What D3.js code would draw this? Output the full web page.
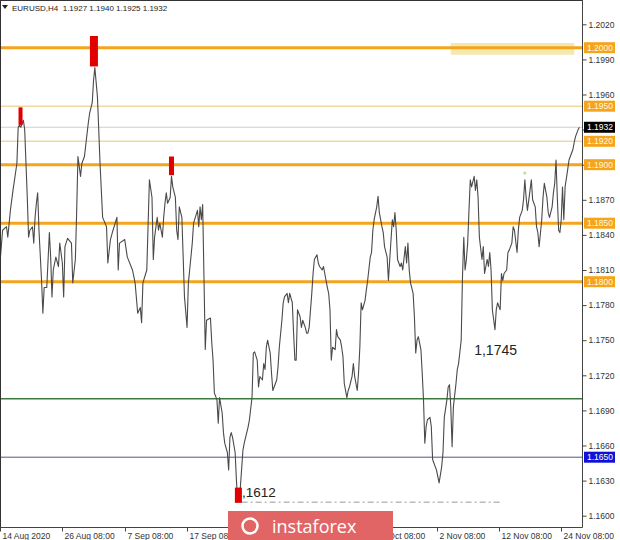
<!DOCTYPE html>
<html><head><meta charset="utf-8">
<script src="https://cdn.jsdelivr.net/npm/d3@7"></script>
<style>body{margin:0;background:#fff;} svg{display:block;font-family:"Liberation Sans",Arial,sans-serif;}</style>
</head><body><svg id="c" width="620" height="540"></svg>
<script>
// ---- data ----
const symbolTitle = "EURUSD,H4  1.1927 1.1940 1.1925 1.1932";
// [bar index, close]
const series = [[0,1.1816],[2,1.1844],[5,1.1847],[6,1.1838],[8,1.1861],[10,1.1878],[13,1.1901],[14,1.1932],[15,1.1934],[16,1.1932],[18,1.1938],[19,1.1930],[21,1.1872],[22,1.1838],[23,1.1844],[25,1.1847],[26,1.1833],[27,1.1855],[28,1.1867],[29,1.1876],[30,1.1844],[32,1.1801],[33,1.1773],[34,1.1795],[36,1.1795],[38,1.1842],[39,1.1821],[40,1.1787],[41,1.1810],[43,1.1821],[45,1.1813],[46,1.1833],[48,1.1816],[49,1.1787],[50,1.1830],[52,1.1837],[55,1.1833],[56,1.1799],[58,1.1819],[59,1.1859],[60,1.1907],[62,1.1890],[63,1.1901],[65,1.1907],[68,1.1936],[69,1.1944],[71,1.1953],[72,1.1972],[73,1.1983],[75,1.1958],[76,1.1930],[77,1.1901],[78,1.1878],[79,1.1855],[82,1.1847],[83,1.1816],[85,1.1836],[87,1.1844],[90,1.1855],[91,1.1810],[92,1.1833],[96,1.1836],[98,1.1821],[102,1.1810],[104,1.1799],[106,1.1773],[108,1.1778],[109,1.1765],[110,1.1799],[113,1.1810],[115,1.1887],[117,1.1872],[118,1.1819],[119,1.1838],[121,1.1855],[122,1.1844],[123,1.1850],[125,1.1838],[126,1.1855],[127,1.1867],[128,1.1876],[129,1.1867],[131,1.1872],[132,1.1890],[133,1.1881],[135,1.1872],[136,1.1844],[137,1.1836],[138,1.1864],[140,1.1855],[141,1.1821],[142,1.1787],[144,1.1761],[145,1.1799],[146,1.1810],[148,1.1833],[149,1.1850],[152,1.1861],[153,1.1847],[154,1.1864],[155,1.1853],[156,1.1866],[157,1.1804],[158,1.1742],[159,1.1767],[162,1.1769],[163,1.1748],[164,1.1733],[165,1.1705],[167,1.1699],[168,1.1679],[169,1.1701],[171,1.1688],[172,1.1671],[173,1.1662],[175,1.1654],[176,1.1639],[177,1.1667],[178,1.1671],[179,1.1667],[181,1.1654],[182,1.1630],[183,1.1612],[185,1.1624],[187,1.1656],[188,1.1662],[191,1.1676],[192,1.1682],[194,1.1701],[195,1.1739],[196,1.1740],[198,1.1733],[199,1.1710],[200,1.1719],[202,1.1716],[203,1.1730],[204,1.1725],[205,1.1744],[206,1.1750],[208,1.1739],[209,1.1722],[210,1.1707],[212,1.1713],[213,1.1716],[214,1.1727],[215,1.1744],[217,1.1767],[218,1.1782],[219,1.1787],[221,1.1790],[222,1.1782],[223,1.1790],[225,1.1782],[226,1.1756],[227,1.1733],[228,1.1733],[229,1.1776],[231,1.1770],[232,1.1761],[233,1.1767],[235,1.1761],[236,1.1756],[237,1.1756],[238,1.1761],[240,1.1790],[241,1.1807],[242,1.1819],[244,1.1823],[245,1.1816],[246,1.1813],[248,1.1810],[249,1.1813],[250,1.1807],[252,1.1795],[253,1.1790],[254,1.1776],[255,1.1733],[256,1.1744],[258,1.1742],[259,1.1759],[260,1.1753],[262,1.1750],[263,1.1744],[264,1.1736],[265,1.1713],[267,1.1701],[268,1.1707],[269,1.1710],[271,1.1719],[272,1.1730],[273,1.1719],[275,1.1707],[276,1.1722],[277,1.1744],[278,1.1782],[279,1.1776],[281,1.1784],[282,1.1793],[283,1.1801],[285,1.1821],[286,1.1825],[287,1.1844],[288,1.1853],[290,1.1864],[291,1.1873],[292,1.1859],[294,1.1847],[295,1.1842],[296,1.1830],[298,1.1821],[299,1.1801],[300,1.1819],[302,1.1853],[303,1.1847],[304,1.1859],[305,1.1844],[306,1.1819],[308,1.1813],[309,1.1816],[310,1.1810],[312,1.1830],[313,1.1816],[314,1.1833],[315,1.1810],[316,1.1799],[318,1.1790],[319,1.1770],[320,1.1739],[321,1.1750],[322,1.1753],[324,1.1742],[325,1.1722],[326,1.1699],[327,1.1662],[328,1.1676],[329,1.1682],[331,1.1684],[332,1.1676],[333,1.1648],[336,1.1639],[338,1.1628],[340,1.1642],[341,1.1654],[342,1.1684],[344,1.1699],[345,1.1710],[346,1.1712],[347,1.1693],[348,1.1659],[349,1.1693],[351,1.1713],[352,1.1725],[353,1.1730],[355,1.1750],[356,1.1804],[357,1.1838],[358,1.1810],[359,1.1819],[360,1.1833],[361,1.1861],[362,1.1887],[363,1.1881],[365,1.1890],[366,1.1878],[367,1.1887],[368,1.1872],[369,1.1838],[371,1.1819],[372,1.1830],[373,1.1807],[375,1.1819],[376,1.1813],[377,1.1825],[378,1.1810],[379,1.1776],[381,1.1759],[382,1.1776],[383,1.1782],[385,1.1776],[386,1.1807],[387,1.1801],[388,1.1807],[390,1.1810],[391,1.1825],[392,1.1827],[394,1.1833],[395,1.1847],[396,1.1844],[398,1.1825],[399,1.1844],[400,1.1855],[402,1.1861],[403,1.1870],[404,1.1887],[405,1.1872],[406,1.1861],[408,1.1878],[409,1.1887],[410,1.1870],[412,1.1864],[413,1.1847],[414,1.1842],[415,1.1830],[417,1.1853],[418,1.1872],[419,1.1884],[421,1.1872],[422,1.1859],[423,1.1855],[425,1.1864],[426,1.1876],[427,1.1884],[428,1.1904],[429,1.1872],[430,1.1844],[431,1.1842],[432,1.1853],[433,1.1881],[434,1.1853],[435,1.1881],[437,1.1896],[438,1.1904],[441,1.1913],[442,1.1919],[443,1.1924],[445,1.1930],[446,1.1932]];

const priceTicks = [1.2020,1.1990,1.1960,1.1930,1.1900,1.1870,1.1840,1.1810,1.1780,1.1750,1.1720,1.1690,1.1660,1.1630,1.1600];
const hiddenPriceTicks = [1.1930,1.1900];
const dateBars = [0,48,96,144,192,240,288,336,384,432];
const dateLabels = ["14 Aug 2020","26 Aug 08:00","7 Sep 08:00","17 Sep 08:00","","","21 Oct 08:00","2 Nov 08:00","12 Nov 08:00","24 Nov 08:00"];

const majorLevels = [1.2000,1.1900,1.1850,1.1800];
const minorLevels = [1.1950,1.1920];
const currentPrice = 1.1932;
const greenLevel = 1.1700;
const blueLevel = 1.1650;
// extremes markers: [bar, top price, bottom price]
const markers = [[15.8,1.1949,1.1934],[72.3,1.2010,1.1984],[132,1.1907,1.1891],[183.5,1.1624,1.1611]];
const zone = {bars:[347,442], prices:[1.1994,1.2004]};
const lowLevel = {price:1.1612, bars:[186,387]};
const annotations = [{text:"1,1745", bar:365, price:1.1737},{text:"1,1612", bar:180.5, price:1.1616}];
const greenDot = [404,1.1893];

// ---- scales ----
const svg = d3.select("#c");
const W = 620, H = 540, axisX = 582, bottomY = 527;
const x = d3.scaleLinear().domain([0,448]).range([0,axisX]);
const y = d3.scaleLinear().domain([1.1600,1.2020]).range([515.7,24.3]);

svg.append("rect").attr("width",W).attr("height",H).attr("fill","#fff");

const plot = svg.append("g");
// zone
plot.append("rect").attr("x",x(zone.bars[0])).attr("width",x(zone.bars[1])-x(zone.bars[0]))
  .attr("y",y(zone.prices[1])).attr("height",y(zone.prices[0])-y(zone.prices[1]))
  .attr("fill","#f3e6a6").attr("opacity",0.9);

function hline(v,color,w){
  plot.append("line").attr("x1",0).attr("x2",axisX).attr("y1",y(v)).attr("y2",y(v))
    .attr("stroke",color).attr("stroke-width",w);
}
hline(currentPrice,"#cfcfcf",1);
minorLevels.forEach(v=>hline(v,"#efd9a0",1.6));
hline(greenLevel,"#3d7a3d",1.6);
hline(blueLevel,"#50509a",1);
majorLevels.forEach(v=>hline(v,"#f5a41c",3));

// low dash-dot
plot.append("line").attr("x1",x(lowLevel.bars[0])).attr("x2",x(lowLevel.bars[1]))
  .attr("y1",y(lowLevel.price)+0.5).attr("y2",y(lowLevel.price)+0.5)
  .attr("stroke","#9a9a9a").attr("stroke-width",1).attr("stroke-dasharray","6,3,2,3");

// price line
const line = d3.line().x(d=>x(d[0])).y(d=>y(d[1]));
plot.append("path").datum(series).attr("d",line).attr("fill","none")
  .attr("stroke","#4a4a4a").attr("stroke-width",1.1).attr("stroke-linejoin","round");

// annotations
annotations.forEach((a,i)=>{
  plot.append("text").attr("x",x(a.bar)).attr("y",y(a.price)).text(a.text)
    .attr("font-size", i===0?14:13.5).attr("fill","#222");
});

// markers
const mw = [4,8,5,7];
markers.forEach((m,i)=>{
  plot.append("rect").attr("x",x(m[0])-mw[i]/2).attr("width",mw[i])
    .attr("y",y(m[1])).attr("height",y(m[2])-y(m[1])).attr("fill","#e00000");
});
plot.append("circle").attr("cx",x(greenDot[0])).attr("cy",y(greenDot[1])).attr("r",1.5).attr("fill","#b8e08a");

// frame
svg.append("line").attr("x1",0.5).attr("x2",0.5).attr("y1",0).attr("y2",bottomY).attr("stroke","#333");
svg.append("line").attr("x1",0).attr("x2",axisX).attr("y1",0.5).attr("y2",0.5).attr("stroke","#333");
svg.append("line").attr("x1",axisX+0.5).attr("x2",axisX+0.5).attr("y1",0).attr("y2",bottomY+0.5).attr("stroke","#444");
svg.append("line").attr("x1",0).attr("x2",axisX+0.5).attr("y1",bottomY+0.5).attr("y2",bottomY+0.5).attr("stroke","#444");

// right axis
const fmt = d3.format(".4f");
const ra = svg.append("g").attr("transform",`translate(${axisX+0.5},0)`)
  .call(d3.axisRight(y).tickValues(priceTicks).tickSize(4).tickPadding(2)
    .tickFormat(d=>hiddenPriceTicks.includes(d)?"":fmt(d)));
ra.select(".domain").remove();
ra.selectAll("line").attr("stroke","#444");
ra.selectAll("text").attr("font-size",8.5).attr("fill","#333").attr("font-family","Liberation Sans, Arial, sans-serif");

// level boxes
function box(v,fill,tc){
  const g = svg.append("g");
  g.append("rect").attr("x",axisX+2).attr("y",y(v)-5.5).attr("width",31).attr("height",11).attr("fill",fill);
  g.append("text").attr("x",axisX+5).attr("y",y(v)+3).text(fmt(v))
    .attr("font-size",8.5).attr("fill",tc);
}
majorLevels.concat(minorLevels).forEach(v=>box(v,"#f5a41c","#fff8e0"));
box(currentPrice,"#000","#fff");
box(blueLevel,"#1010d8","#fff");

// bottom axis
const ba = svg.append("g").attr("transform",`translate(0,${bottomY+0.5})`);
dateBars.forEach((b,i)=>{
  const px = Math.round(x(b))+0.5;
  ba.append("line").attr("x1",px).attr("x2",px).attr("y1",0).attr("y2",4).attr("stroke","#444");
  if (dateLabels[i]) ba.append("text").attr("x",px+2).attr("y",11).text(dateLabels[i]).attr("font-size",8.5).attr("fill","#333");
});

// title
svg.append("path").attr("d","M2,5 L8,5 L5,9 Z").attr("fill","#222");
svg.append("text").attr("x",12).attr("y",11).text(symbolTitle).attr("font-size",8).attr("fill","#222")
  .attr("xml:space","preserve").style("white-space","pre");

// instaforex badge
const logo = svg.append("g").attr("transform","translate(228,511)");
logo.append("rect").attr("width",165).attr("height",29).attr("fill","#e26565");
logo.append("circle").attr("cx",22).attr("cy",15).attr("r",7.5).attr("fill","none").attr("stroke","#fff").attr("stroke-width",2.5);
logo.append("text").attr("x",44).attr("y",22).text("instaforex").attr("font-size",18).attr("fill","#fff")
  .attr("font-family","Open Sans, Liberation Sans, sans-serif");
</script></body></html>
